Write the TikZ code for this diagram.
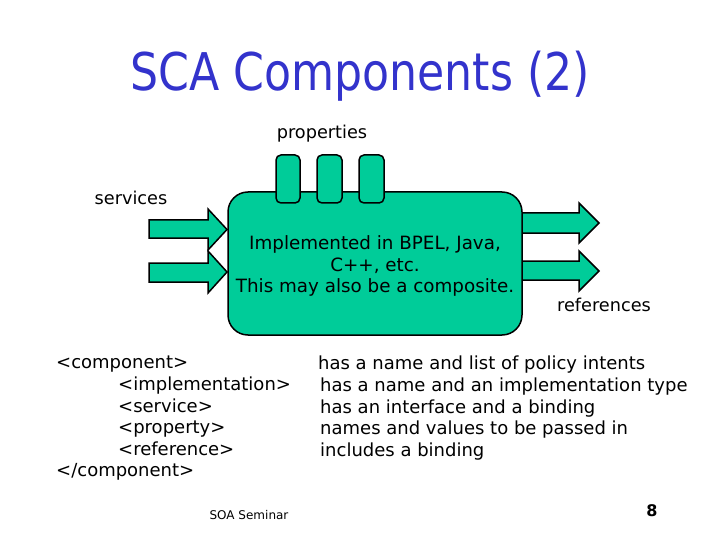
\documentclass[tikz,border=0pt]{standalone}
\usepackage{fontspec}
\setmainfont{DejaVu Sans}
\definecolor{compgreen}{RGB}{0,204,153}
\definecolor{titleblue}{RGB}{51,51,204}
\begin{document}
\begin{tikzpicture}[x=1pt,y=-1pt,
  shapeline/.style={draw=black,line width=1.5pt,fill=compgreen,line join=miter},
  label/.style={font=\fontsize{17.7}{21}\selectfont,inner sep=0pt},
  codetext/.style={font=\fontsize{18}{21.6}\selectfont,inner sep=0pt,anchor=north west,align=left}]
\useasboundingbox (0,0) rectangle (720,540);
\fill[white] (0,0) rectangle (720,540);
% title
\node[font=\fontsize{52}{60}\selectfont,text=titleblue,xscale=0.85,transform shape,inner sep=0pt] (title) at (360,76) {SCA Components (2)};
% arrows (services)
\draw[shapeline] (149,220) -- (208,220) -- (208,209) -- (227,229.5) -- (208,250) -- (208,238) -- (149,238) -- cycle;
\draw[shapeline] (149,263) -- (208,263) -- (208,251) -- (227,272) -- (208,293) -- (208,282) -- (149,282) -- cycle;
% arrows (references)
\draw[shapeline] (515,213) -- (579,213) -- (579,203) -- (599,223) -- (579,243) -- (579,233) -- (515,233) -- cycle;
\draw[shapeline] (515,261) -- (579,261) -- (579,251) -- (599,271) -- (579,291) -- (579,280) -- (515,280) -- cycle;
% component box
\draw[shapeline,rounded corners=20pt] (228,192) rectangle (522,335);
% property tabs
\draw[shapeline,rounded corners=5pt] (276,155) rectangle (300,203);
\draw[shapeline,rounded corners=5pt] (317,155) rectangle (342,203);
\draw[shapeline,rounded corners=5pt] (359,155) rectangle (384,203);
% box text
\node[font=\fontsize{18.3}{21.5}\selectfont,align=center,inner sep=0pt] (impl) at (375,266) {Implemented in BPEL, Java,\\C++, etc.\\This may also be a composite.};
% labels
\node[label] (props) at (322,134) {properties};
\node[label] (services) at (131,198) {services};
\node[label] (refs) at (604,305) {references};
% code text
\node[codetext] (code) at (56,356) {<component>\\\hspace{62pt}<implementation>\\\hspace{62pt}<service>\\\hspace{62pt}<property>\\\hspace{62pt}<reference>\\</component>};
\node[codetext] (desc) at (320,356) {\hspace{-2pt}has a name and list of policy intents\\has a name and an implementation type\\has an interface and a binding\\names and values to be passed in\\includes a binding};
% footer
\node[font=\fontsize{12}{14}\selectfont,inner sep=0pt] (footer) at (249,515) {SOA Seminar};
\node[font=\bfseries\fontsize{16}{19}\selectfont,inner sep=0pt] (pagenum) at (652,511) {8};
\end{tikzpicture}
\end{document}
